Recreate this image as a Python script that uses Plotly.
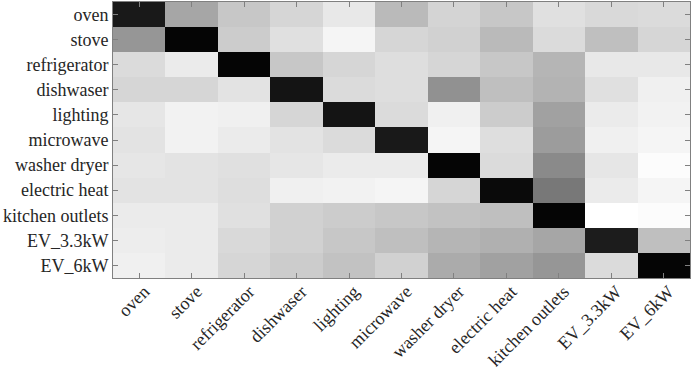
import plotly.graph_objects as go

labels = ["oven", "stove", "refrigerator", "dishwaser", "lighting", "microwave",
          "washer dryer", "electric heat", "kitchen outlets", "EV_3.3kW", "EV_6kW"]

row_oven = [0.90, 0.35, 0.22, 0.16, 0.09, 0.27, 0.17, 0.22, 0.12, 0.15, 0.14]
row_stove = [0.41, 0.98, 0.20, 0.12, 0.04, 0.16, 0.18, 0.27, 0.14, 0.25, 0.16]
row_refrigerator = [0.14, 0.08, 0.98, 0.22, 0.16, 0.13, 0.16, 0.22, 0.29, 0.09, 0.09]
row_dishwaser = [0.16, 0.16, 0.11, 0.92, 0.14, 0.13, 0.43, 0.25, 0.30, 0.12, 0.06]
row_lighting = [0.10, 0.05, 0.06, 0.16, 0.92, 0.14, 0.06, 0.20, 0.37, 0.08, 0.05]
row_microwave = [0.11, 0.05, 0.08, 0.11, 0.14, 0.90, 0.04, 0.13, 0.39, 0.06, 0.04]
row_washer = [0.10, 0.11, 0.12, 0.10, 0.08, 0.08, 0.98, 0.14, 0.46, 0.10, 0.01]
row_heat = [0.11, 0.11, 0.13, 0.06, 0.05, 0.04, 0.16, 0.96, 0.53, 0.08, 0.04]
row_kitchen = [0.08, 0.08, 0.12, 0.18, 0.20, 0.22, 0.24, 0.25, 0.98, 0.00, 0.01]
row_ev33 = [0.07, 0.08, 0.15, 0.18, 0.22, 0.25, 0.29, 0.31, 0.35, 0.89, 0.25]
row_ev6 = [0.06, 0.08, 0.16, 0.20, 0.24, 0.18, 0.33, 0.37, 0.41, 0.14, 0.98]

z = [row_oven, row_stove, row_refrigerator, row_dishwaser, row_lighting, row_microwave,
     row_washer, row_heat, row_kitchen, row_ev33, row_ev6]

fig = go.Figure(go.Heatmap(
    z=z, x=labels, y=labels,
    colorscale=[[0, "rgb(255,255,255)"], [1, "rgb(0,0,0)"]],
    zmin=0, zmax=1, showscale=False,
))

font = dict(family="Liberation Serif, Times New Roman, serif", size=18, color="#262626")
axis_common = dict(
    ticks="inside", ticklen=5, tickcolor="#808080", tickwidth=1,
    showline=True, linecolor="#808080", linewidth=1, mirror="ticks",
    showgrid=False, zeroline=False, tickfont=font, automargin=False,
)
fig.update_xaxes(tickangle=-45, ticklabelstandoff=-5, ticklabelshift=5, **axis_common)
fig.update_yaxes(autorange="reversed", **axis_common)
fig.update_layout(
    width=692, height=370,
    margin=dict(l=113, r=2, t=2, b=92, autoexpand=False),
    paper_bgcolor="white", plot_bgcolor="white",
    font=font,
)
fig.write_html(
    "out.html",
    config={"displayModeBar": False},
    post_script="document.body.style.margin='0';document.body.style.overflow='hidden';",
)
